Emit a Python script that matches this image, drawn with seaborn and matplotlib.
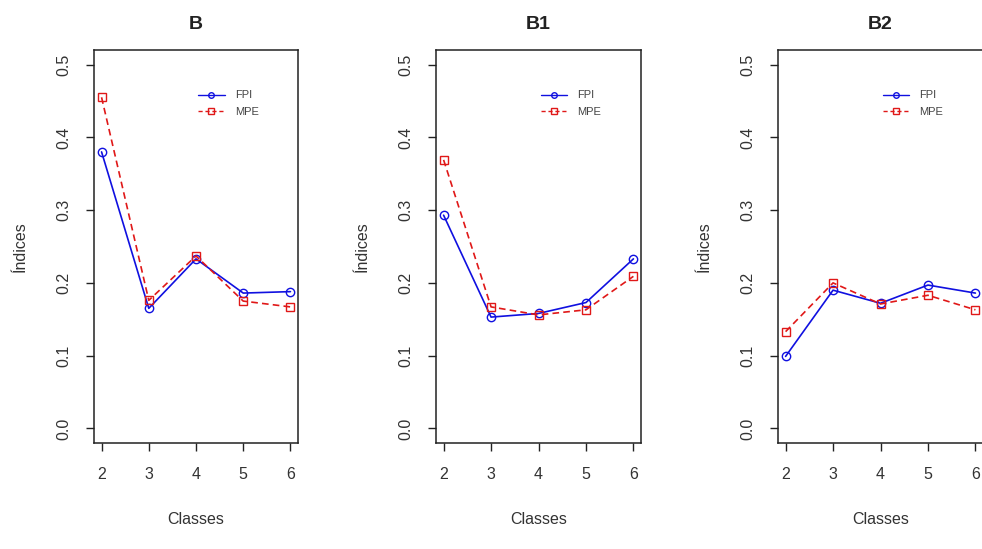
import matplotlib
matplotlib.use("Agg")
import matplotlib.pyplot as plt
import seaborn as sns
import pandas as pd
from matplotlib.lines import Line2D

# ---- data ----
classes = [2, 3, 4, 5, 6]
panels = ["B", "B1", "B2"]
fpi_B = [0.380, 0.165, 0.233, 0.186, 0.188]
mpe_B = [0.455, 0.176, 0.237, 0.175, 0.167]
fpi_B1 = [0.293, 0.153, 0.158, 0.173, 0.233]
mpe_B1 = [0.369, 0.167, 0.156, 0.163, 0.209]
fpi_B2 = [0.099, 0.190, 0.172, 0.197, 0.186]
mpe_B2 = [0.133, 0.200, 0.171, 0.183, 0.163]
series_names = ["FPI", "MPE"]
y_ticks = [0.0, 0.1, 0.2, 0.3, 0.4, 0.5]

values = {"B": (fpi_B, mpe_B), "B1": (fpi_B1, mpe_B1), "B2": (fpi_B2, mpe_B2)}
rows = []
for p in panels:
    for s, vals in zip(series_names, values[p]):
        for c, v in zip(classes, vals):
            rows.append({"panel": p, "Classes": c, "serie": s, "valor": v})
df = pd.DataFrame(rows)

sns.set_style("ticks")
plt.rcParams["font.family"] = ["Liberation Sans", "DejaVu Sans"]

fig = plt.figure(figsize=(9.82, 5.49), dpi=100)
W, H = 982, 549
boxes = [(94, 298), (436, 641), (778, 983)]
top_px, bot_px = 50, 443

colors = {"FPI": "#1010e0", "MPE": "#e01818"}
markers = {"FPI": "o", "MPE": "s"}

for p, (l, r) in zip(panels, boxes):
    ax = fig.add_axes([l / W, 1 - bot_px / H, (r - l) / W, (bot_px - top_px) / H])
    sub = df[df.panel == p]
    for s in series_names:
        d = sub[sub.serie == s]
        sns.lineplot(data=d, x="Classes", y="valor", ax=ax, color=colors[s],
                     marker=markers[s], markersize=6, markerfacecolor="none",
                     markeredgecolor=colors[s], markeredgewidth=1.0,
                     linewidth=1.2, dashes=False, legend=False,
                     linestyle="-" if s == "FPI" else (0, (4, 2.5)))
    ax.set_xlim(1.84, 6.16)
    ax.set_ylim(-0.02, 0.52)
    ax.set_xticks(classes)
    ax.set_xticklabels([str(c) for c in classes])
    ax.set_yticks(y_ticks)
    ax.set_yticklabels([f"{t:.1f}" for t in y_ticks], rotation=90, va="center")
    ax.tick_params(axis="both", direction="out", length=6, width=1, labelsize=11.5,
                   color="#222222", labelcolor="#333333")
    ax.tick_params(axis="x", pad=11)
    ax.tick_params(axis="y", pad=10)
    for sp in ax.spines.values():
        sp.set_visible(True)
        sp.set_linewidth(1.1)
        sp.set_color("#222222")
    ax.set_xlabel("Classes", fontsize=11.5, color="#333333", labelpad=22)
    ax.set_ylabel("Índices", fontsize=11.5, color="#333333", labelpad=21)
    ax.set_title(p, fontsize=14, fontweight="bold", pad=15, color="#222222")
    handles = [Line2D([0], [0], color=colors[s], marker=markers[s], markersize=4,
                      markerfacecolor="none", markeredgecolor=colors[s],
                      linewidth=1.0, linestyle="-" if s == "FPI" else (0, (3, 2)))
               for s in series_names]
    ax.legend(handles, series_names, loc="upper left", bbox_to_anchor=(0.51, 0.897),
              frameon=False, fontsize=8, handlelength=2.4, handletextpad=0.9,
              labelspacing=0.6, borderpad=0, borderaxespad=0, labelcolor="#444444")

fig.savefig("out.png", dpi=100)
